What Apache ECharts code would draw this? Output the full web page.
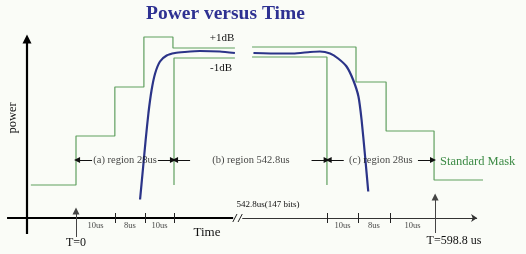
<!DOCTYPE html>
<html><head><meta charset="utf-8">
<script src="https://cdn.jsdelivr.net/npm/echarts@6/dist/echarts.min.js"></script>
<style>html,body{margin:0;padding:0;background:#fff}#c{width:526px;height:254px}</style>
</head><body><div id="c"></div>
<script>
// Schematic units:
// x = time on the ramp scale in µs (T=0 at 0, the 542.8 µs middle is drawn compressed)
// y = power level in dB relative to the nominal level
const maskUpperLeftX  = [-12.9, 0, 0, 11.1, 11.1, 19.4, 19.4, 27.7, 27.7, 45.4];
const maskUpperLeftY  = [-26.4, -26.4, -16.6, -16.6, -6.8, -6.8, 3.2, 3.2, 1.0, 1.0];
const maskUpperRightX = [50.3, 80.0, 80.0, 88.6, 88.6, 102.3, 102.3, 116.3];
const maskUpperRightY = [1.2, 1.2, -5.8, -5.8, -15.6, -15.6, -25.4, -25.4];
const maskLowerLeftX  = [28.0, 28.0, 45.4];
const maskLowerLeftY  = [-26.4, -1.0, -1.0];
const maskLowerRightX = [50.3, 71.7, 71.7];
const maskLowerRightY = [-0.8, -0.8, -26.4];

const powerRiseX = [18.3, 19.1, 19.9, 20.7, 21.6, 22.6, 24.0, 25.9, 28.3, 31.0, 35.4, 41.1, 45.4];
const powerRiseY = [-29.3, -23.4, -17.4, -12.0, -7.4, -4.1, -1.7, -0.5, 0.0, 0.2, 0.4, 0.3, 0.0];
const powerFallX = [50.7, 58.3, 62.0, 66.9, 69.7, 72.6, 74.9, 77.3, 79.2, 80.7, 81.6, 82.6, 83.5];
const powerFallY = [0.0, -0.1, -0.1, 0.2, 0.3, -0.1, -1.1, -2.7, -5.4, -8.7, -13.4, -20.7, -27.7];

const leftTicks  = [0, 11.1, 19.7, 28.0];
const rightTicks = [71.7, 80.6, 89.7, 102.6];
const tickLabels = ['10us', '8us', '10us'];

const regionEdges  = [0, 28.0, 71.9, 102.3];
const regionLabels = ['(a) region 28us', '(b) region 542.8us', '(c) region 28us'];

// ---------------------------------------------------------------
const SERIF = '"Liberation Serif","Times New Roman",serif';
const GREEN = '#5f9f5f';
const BLUE = '#2b3488';
const zip = (xs, ys) => xs.map((x, i) => [x, ys[i]]);

const axisY0 = -33;     // level of the time axis
const regionY = -21.4;  // level of the region arrows
const tickLabelY = -34.6;

function maskSeries(xs, ys) {
  return { type: 'line', data: zip(xs, ys), symbol: 'none', silent: true,
    lineStyle: { color: GREEN, width: 1.2 }, z: 2 };
}
function powerSeries(xs, ys) {
  return { type: 'line', data: zip(xs, ys), symbol: 'none', smooth: 0.2, silent: true,
    lineStyle: { color: BLUE, width: 2.2 }, z: 3 };
}
function segs(list, color, width, endSymbol, size) {
  return { type: 'lines', coordinateSystem: 'cartesian2d', silent: true, z: 4,
    symbol: ['none', endSymbol || 'none'], symbolSize: size || 7,
    lineStyle: { color: color, width: width, opacity: 1 },
    data: list.map(c => ({ coords: c })) };
}

// region arrows: from each edge outward toward the label
const arrowLen = 4.3, tipGap = 0.3;
const regionArrows = [];
for (let i = 0; i < regionLabels.length; i++) {
  const a = regionEdges[i], b = regionEdges[i + 1];
  regionArrows.push([[a + tipGap + arrowLen, regionY], [a + tipGap, regionY]]);
  regionArrows.push([[b - tipGap - arrowLen, regionY], [b - tipGap, regionY]]);
}
const innerTicks = leftTicks.slice(1).concat(rightTicks.slice(0, 3));
const tickSegs = innerTicks.map(t => [[t, -32.0], [t, -34.0]]);
const mid = arr => arr.slice(0, -1).map((v, i) => (v + arr[i + 1]) / 2);

const chart = echarts.init(document.getElementById('c'), null, { renderer: 'canvas' });
chart.setOption({
  backgroundColor: '#fafcf7',
  animation: false,
  title: { text: 'Power versus Time', left: 146, top: 4, padding: 0,
    textStyle: { fontFamily: SERIF, fontSize: 19.5, fontWeight: 'bold', color: '#2e3192' } },
  grid: { left: 6, right: 30, top: 13, bottom: 16 },
  xAxis: { type: 'value', min: -20, max: 120, show: false },
  yAxis: { type: 'value', min: -37, max: 8, show: false },
  series: [
    maskSeries(maskUpperLeftX, maskUpperLeftY),
    maskSeries(maskUpperRightX, maskUpperRightY),
    maskSeries(maskLowerLeftX, maskLowerLeftY),
    maskSeries(maskLowerRightX, maskLowerRightY),
    powerSeries(powerRiseX, powerRiseY),
    powerSeries(powerFallX, powerFallY),
    // power axis (vertical) with arrow
    segs([[[-14, -36.2], [-14, 2.8]]], '#000', 2.2, 'triangle', 9),
    // time axis, thick part before the break
    segs([[[-19.7, axisY0], [44.9, axisY0]]], '#000', 2, 'none'),
    // break marks
    segs([[[44.8, -33.8], [46.0, -32.2]], [[46.3, -33.8], [47.5, -32.2]]], '#222', 1, 'none'),
    // thin continuation after the break
    segs([[[47.5, axisY0], [114.6, axisY0]]], '#333', 1, 'arrow', 6),
    // T=0 and T=598.8us markers
    segs([[[0, -36.8], [0, -31.6]], [[102.6, -36.0], [102.6, -28.8]]], '#444', 1, 'triangle', 7),
    // ticks
    segs(tickSegs, '#222', 1, 'none'),
    // region arrows
    segs(regionArrows, '#111', 1, 'triangle', 6),
    // region labels
    { type: 'scatter', silent: true, symbolSize: 0, z: 5,
      data: mid(regionEdges).map((x, i) => ({ value: [x, regionY], name: regionLabels[i] })),
      label: { show: true, position: 'inside', formatter: '{b}', color: '#111',
        fontFamily: SERIF, fontSize: 10.5 } },
    // tick labels
    { type: 'scatter', silent: true, symbolSize: 0, z: 5,
      data: mid(leftTicks).concat(mid(rightTicks)).map((x, i) => ({ value: [x, tickLabelY], name: tickLabels[i % 3] })),
      label: { show: true, position: 'inside', formatter: '{b}', color: '#111',
        fontFamily: SERIF, fontSize: 8.5 } }
  ],
  graphic: [
    { type: 'text', x: 222, y: 38, style: { text: '+1dB', font: '11px ' + SERIF, fill: '#111', align: 'center', verticalAlign: 'middle' } },
    { type: 'text', x: 221, y: 68, style: { text: '-1dB', font: '11px ' + SERIF, fill: '#111', align: 'center', verticalAlign: 'middle' } },
    { type: 'text', x: 13, y: 118, rotation: Math.PI / 2, style: { text: 'power', font: '12.5px ' + SERIF, fill: '#111', align: 'center', verticalAlign: 'middle' } },
    { type: 'text', x: 440, y: 162, style: { text: 'Standard Mask', font: '12.5px ' + SERIF, fill: '#3d8b46', align: 'left', verticalAlign: 'middle' } },
    { type: 'text', x: 268, y: 205, style: { text: '542.8us(147 bits)', font: '9px ' + SERIF, fill: '#111', align: 'center', verticalAlign: 'middle' } },
    { type: 'text', x: 207, y: 233, style: { text: 'Time', font: '13px ' + SERIF, fill: '#111', align: 'center', verticalAlign: 'middle' } },
    { type: 'text', x: 76, y: 243, style: { text: 'T=0', font: '12px ' + SERIF, fill: '#111', align: 'center', verticalAlign: 'middle' } },
    { type: 'text', x: 454, y: 241, style: { text: 'T=598.8 us', font: '12px ' + SERIF, fill: '#111', align: 'center', verticalAlign: 'middle' } }
  ]
});
</script></body></html>
